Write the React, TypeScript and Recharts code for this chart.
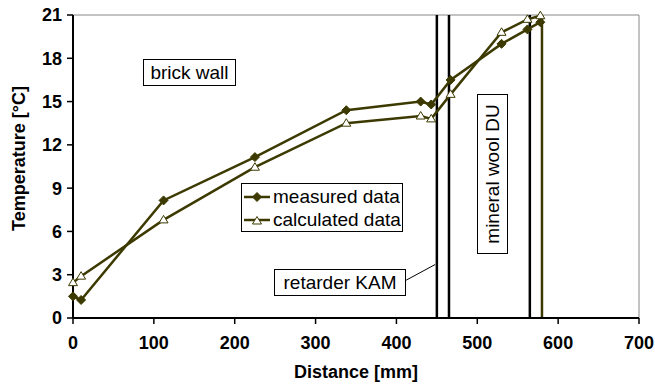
import React from 'react';
import {
  LineChart,
  Line,
  XAxis,
  YAxis,
  ReferenceLine,
} from 'recharts';

const distance = [0, 10, 112, 225, 338, 430, 443, 467, 530, 562, 578];
const measured = [1.5, 1.25, 8.15, 11.15, 14.4, 15.0, 14.8, 16.5, 19.0, 20.0, 20.5];
const calculated = [2.45, 2.9, 6.8, 10.45, 13.5, 14.0, 13.8, 15.5, 19.8, 20.7, 20.95];

const xTicks = [0, 100, 200, 300, 400, 500, 600, 700];
const yTicks = [0, 3, 6, 9, 12, 15, 18, 21];

// layer boundaries [mm]
const blackBounds = [450, 465, 565];
const oliveBound = 580;

const data = distance.map((d, i) => ({ x: d, measured: measured[i], calculated: calculated[i] }));

const OLIVE = '#3c3a00';
const FONT = '"Liberation Sans", Arial, sans-serif';

const Diamond = ({ cx, cy }: any) => (
  <polygon
    points={`${cx},${cy - 4.5} ${cx + 4.5},${cy} ${cx},${cy + 4.5} ${cx - 4.5},${cy}`}
    fill={OLIVE}
    stroke={OLIVE}
    strokeWidth={1}
  />
);

const Triangle = ({ cx, cy }: any) => (
  <polygon
    points={`${cx},${cy - 4.5} ${cx + 4.5},${cy + 3} ${cx - 4.5},${cy + 3}`}
    fill="#fff"
    stroke={OLIVE}
    strokeWidth={1}
  />
);

const YTitle = ({ viewBox }: any) => {
  const cy = viewBox.y + viewBox.height / 2 - 8;
  return (
    <text
      x={19}
      y={cy}
      transform={`rotate(-90, 19, ${cy})`}
      textAnchor="middle"
      dominantBaseline="central"
      fill="#000"
      fontSize={18}
      fontWeight="bold"
      fontFamily={FONT}
    >
      Temperature [°C]
    </text>
  );
};

const legendItems = [
  { name: 'measured data', shape: 'd' },
  { name: 'calculated data', shape: 't' },
];

const boxStyle: React.CSSProperties = {
  position: 'absolute',
  border: '1px solid #000',
  background: '#fff',
  fontFamily: FONT,
  fontSize: 19,
  color: '#000',
  boxSizing: 'border-box',
  display: 'flex',
  alignItems: 'center',
  justifyContent: 'center',
  whiteSpace: 'nowrap',
};

const App = () => {
  return (
    <div style={{ position: 'fixed', left: 0, top: 0, width: 655, height: 387, background: '#fff' }}>
      <LineChart
        width={655}
        height={387}
        data={data}
        margin={{ top: 15, right: 16, left: 0, bottom: 0 }}
      >
        <XAxis
          dataKey="x"
          type="number"
          domain={[0, 700]}
          ticks={xTicks}
          interval={0}
          height={69}
          tickSize={6}
          tickMargin={12}
          axisLine={{ stroke: '#000', strokeWidth: 2 }}
          tickLine={{ stroke: '#000', strokeWidth: 1.5 }}
          tick={{ fill: '#000', fontSize: 18, fontWeight: 'bold', fontFamily: FONT }}
          label={{
            value: 'Distance [mm]',
            position: 'insideBottom',
            offset: 9,
            fill: '#000',
            fontSize: 18,
            fontWeight: 'bold',
            fontFamily: FONT,
          }}
        />
        <YAxis
          type="number"
          domain={[0, 21]}
          ticks={yTicks}
          interval={0}
          width={73}
          tickSize={6}
          tickMargin={5}
          axisLine={{ stroke: '#000', strokeWidth: 2 }}
          tickLine={{ stroke: '#000', strokeWidth: 1.5 }}
          tick={{ fill: '#000', fontSize: 18, fontWeight: 'bold', fontFamily: FONT }}
          label={<YTitle />}
        />
        <ReferenceLine y={21} stroke="#888" strokeWidth={1} />
        <ReferenceLine x={700} stroke="#888" strokeWidth={1} />
        {blackBounds.map((b) => (
          <ReferenceLine key={b} x={b} stroke="#000" strokeWidth={2.5} />
        ))}
        <ReferenceLine x={oliveBound} stroke={OLIVE} strokeWidth={2.5} />
        <ReferenceLine
          segment={[
            { x: 412, y: 2.62 },
            { x: 448, y: 3.71 },
          ]}
          stroke="#000"
          strokeWidth={1}
        />
        <Line
          dataKey="measured"
          name="measured data"
          stroke={OLIVE}
          strokeWidth={2.5}
          isAnimationActive={false}
          dot={(p: any) => <Diamond key={`m-${p.index}`} cx={p.cx} cy={p.cy} />}
          activeDot={false}
        />
        <Line
          dataKey="calculated"
          name="calculated data"
          stroke={OLIVE}
          strokeWidth={2.5}
          isAnimationActive={false}
          dot={(p: any) => <Triangle key={`c-${p.index}`} cx={p.cx} cy={p.cy} />}
          activeDot={false}
        />
      </LineChart>
      <div
        style={{
          position: 'absolute',
          left: 241,
          top: 183,
          width: 162,
          height: 49,
          border: '1px solid #000',
          background: '#fff',
          fontFamily: FONT,
          fontSize: 19,
          color: '#000',
          boxSizing: 'border-box',
          paddingTop: 1,
        }}
      >
        {legendItems.map((item) => (
          <div key={item.name} style={{ display: 'flex', alignItems: 'center', height: 23 }}>
            <svg width={30} height={14} style={{ marginLeft: 1, flex: 'none' }}>
              <line x1={1} y1={7} x2={27} y2={7} stroke={OLIVE} strokeWidth={2.5} />
              {item.shape === 'd' ? <Diamond cx={14} cy={7} /> : <Triangle cx={14} cy={8} />}
            </svg>
            <span style={{ lineHeight: '20px' }}>{item.name}</span>
          </div>
        ))}
      </div>
      <div style={{ ...boxStyle, left: 143, top: 59, width: 93, height: 27 }}>brick wall</div>
      <div style={{ ...boxStyle, left: 274, top: 269, width: 132, height: 27 }}>retarder KAM</div>
      <div style={{ ...boxStyle, left: 477, top: 94, width: 31, height: 160 }}>
        <span style={{ transform: 'rotate(-90deg)', display: 'inline-block' }}>mineral wool DU</span>
      </div>
    </div>
  );
};

export default App;
